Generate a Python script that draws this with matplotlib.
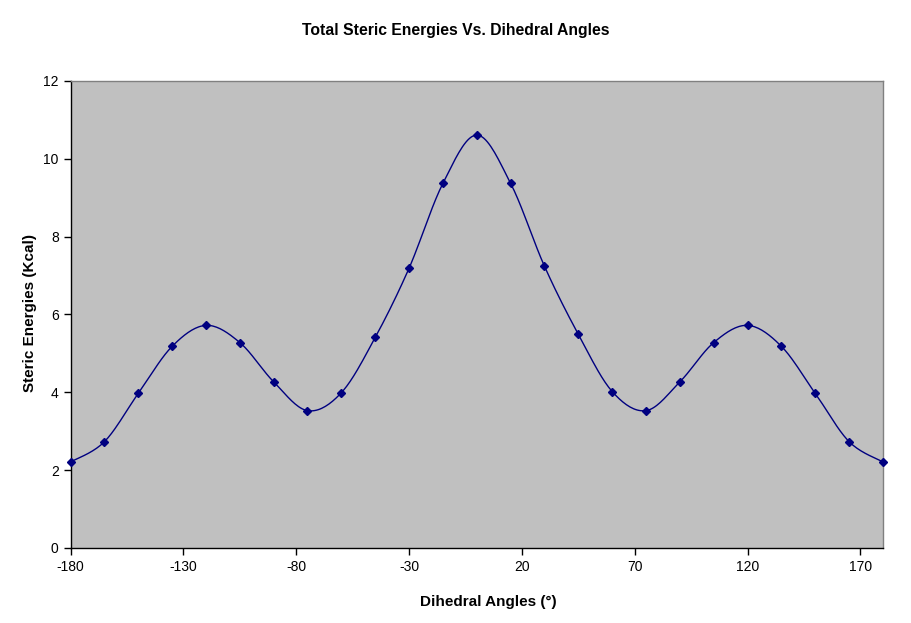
import numpy as np
import matplotlib
matplotlib.use("Agg")
import matplotlib.pyplot as plt

angles = [-180, -165, -150, -135, -120, -105, -90, -75, -60, -45, -30, -15,
          0, 15, 30, 45, 60, 75, 90, 105, 120, 135, 150, 165, 180]
energies = [2.21, 2.73, 3.97, 5.18, 5.72, 5.28, 4.27, 3.53, 3.99, 5.41, 7.19, 9.37,
            10.61, 9.37, 7.24, 5.49, 4.02, 3.53, 4.27, 5.28, 5.72, 5.18, 3.97, 2.73, 2.21]
x_ticks = [-180, -130, -80, -30, 20, 70, 120, 170]
y_ticks = [0, 2, 4, 6, 8, 10, 12]

plt.rcParams['font.family'] = ['Liberation Sans', 'DejaVu Sans']
plt.rcParams['axes.unicode_minus'] = False

fig = plt.figure(figsize=(9.11, 6.23), dpi=100)
fig.patch.set_facecolor('white')
ax = fig.add_axes([0.0774, 0.1204, 0.8919, 0.7496])
ax.set_facecolor('#C0C0C0')

# Smoothed line (Catmull-Rom rendering through the data points)
xs = np.array(angles, float)
ys = np.array(energies, float)
px = np.concatenate([[xs[0]], xs, [xs[-1]]])
py = np.concatenate([[ys[0]], ys, [ys[-1]]])
cx, cy = [], []
t = np.linspace(0, 1, 20)
for i in range(1, len(px) - 2):
    p0, p1, p2, p3 = px[i-1], px[i], px[i+1], px[i+2]
    q0, q1, q2, q3 = py[i-1], py[i], py[i+1], py[i+2]
    def cr(a0, a1, a2, a3):
        return 0.5 * ((2*a1) + (-a0 + a2)*t + (2*a0 - 5*a1 + 4*a2 - a3)*t**2 + (-a0 + 3*a1 - 3*a2 + a3)*t**3)
    cx.extend(cr(p0, p1, p2, p3))
    cy.extend(cr(q0, q1, q2, q3))
ax.plot(cx, cy, color='#000080', lw=1.0, zorder=3)
ax.plot(xs, ys, linestyle='none', marker='D', markersize=4.5, color='#000080', zorder=4, clip_on=False)

ax.set_xlim(-180, 180)
ax.set_ylim(0, 12)
ax.set_xticks(x_ticks)
ax.set_yticks(y_ticks)
ax.tick_params(direction='out', length=5, width=1, labelsize=10, color='black')
ax.tick_params(axis='y', pad=3.5)
ax.tick_params(axis='x', pad=4)
for s in ['left', 'bottom']:
    ax.spines[s].set_color('black')
    ax.spines[s].set_linewidth(1)
for s in ['top', 'right']:
    ax.spines[s].set_color('#808080')
    ax.spines[s].set_linewidth(1)

fig.text(0.5, 1 - 31/623, 'Total Steric Energies Vs. Dihedral Angles', ha='center', va='center',
         fontsize=11.3, fontweight='bold')
fig.text(488/911, 1 - 602/623, 'Dihedral Angles (°)', ha='center', va='center',
         fontsize=11, fontweight='bold')
fig.text(30/911, 1 - 313/623, 'Steric Energies (Kcal)', ha='center', va='center',
         fontsize=11, fontweight='bold', rotation=90)

fig.savefig('out.png', dpi=100)
